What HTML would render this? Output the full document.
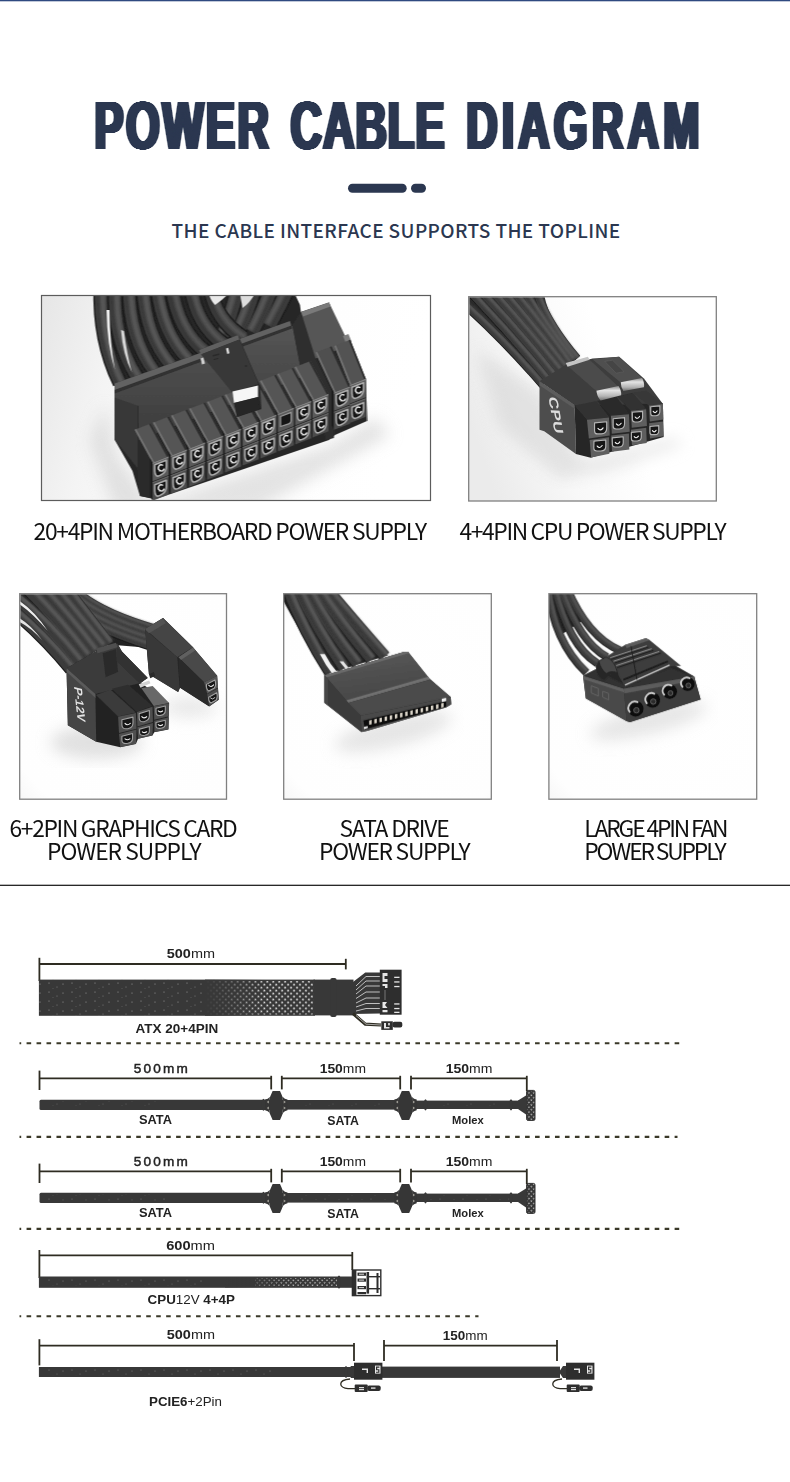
<!DOCTYPE html>
<html lang="en">
<head>
<meta charset="utf-8">
<title>Power Cable Diagram</title>
<style>
html,body{margin:0;padding:0;background:#fff;}
body{width:790px;height:1482px;overflow:hidden;position:relative;}
svg{display:block;position:absolute;left:0;top:0;}
.ttl{font-family:"Liberation Sans",sans-serif;font-weight:700;font-size:68.5px;fill:#2b3750;}
.sub{font-family:"Noto Sans CJK SC","Liberation Sans",sans-serif;font-weight:500;font-size:19px;fill:#2b3750;}
.cap{font-family:"Noto Sans CJK SC","Liberation Sans",sans-serif;font-weight:400;font-size:22.8px;fill:#111;}
.dim{font-family:"Liberation Sans",sans-serif;font-size:13px;fill:#222;}
.lbl{font-family:"Liberation Sans",sans-serif;font-weight:700;font-size:12px;fill:#222;}
</style>
</head>
<body>
<svg width="790" height="1482" viewBox="0 0 790 1482">
<defs>
<filter id="thick" x="-5%" y="-5%" width="110%" height="110%" color-interpolation-filters="sRGB"><feGaussianBlur stdDeviation="1.45 0"/><feComponentTransfer><feFuncA type="linear" slope="6.8" intercept="-0.18"/></feComponentTransfer></filter>
</defs>
<!-- top rule -->
<rect x="0" y="0" width="790" height="1.3" fill="#2f4a80"/>
<!-- title -->
<g id="title" filter="url(#thick)">
<text class="ttl" transform="translate(94.6 149.4) scale(0.635 1)" textLength="274.5" lengthAdjust="spacing">POWER</text>
<text class="ttl" transform="translate(290.5 149.4) scale(0.635 1)" textLength="242.4" lengthAdjust="spacing">CABLE</text>
<text class="ttl" transform="translate(466.3 149.4) scale(0.635 1)" textLength="367.1" lengthAdjust="spacing">DIAGRAM</text>
</g>
<rect x="348" y="183.7" width="58.7" height="9" rx="4.5" fill="#2b3750"/>
<rect x="411" y="183.7" width="15" height="9" rx="4.5" fill="#2b3750"/>
<text class="sub" x="171.6" y="237.5" textLength="448.6" lengthAdjust="spacing">THE CABLE INTERFACE SUPPORTS THE TOPLINE</text>
<g id="photos">
<g id="ph1">
<defs>
<clipPath id="clip1"><rect x="42.1" y="296.1" width="387.8" height="203.8"/></clipPath>
<linearGradient id="bg1" x1="0" y1="0" x2="1" y2="0.15"><stop offset="0" stop-color="#e6e6e6"/><stop offset="0.22" stop-color="#f4f4f4"/><stop offset="0.5" stop-color="#fdfdfd"/><stop offset="1" stop-color="#ffffff"/></linearGradient>
<filter id="blur1" x="-40%" y="-60%" width="180%" height="220%"><feGaussianBlur stdDeviation="16"/></filter>
<filter id="cblur" x="-10%" y="-10%" width="120%" height="120%"><feGaussianBlur stdDeviation="2.2"/></filter>
<filter id="soft1" x="-5%" y="-5%" width="110%" height="110%"><feGaussianBlur stdDeviation="0.5"/></filter>
<linearGradient id="face1" x1="0" y1="0" x2="0" y2="1"><stop offset="0" stop-color="#555"/><stop offset="1" stop-color="#3c3c3c"/></linearGradient>
</defs>
<rect x="41.5" y="295.5" width="389" height="205" fill="url(#bg1)"/>
<g clip-path="url(#clip1)"><g filter="url(#soft1)"><g transform="translate(40 290) scale(0.5)">
<g filter="url(#blur1)" opacity="0.55"><path d="M130,230 L150,330 L225,425 L580,310 L670,255 L700,290 L430,440 L150,440 L100,300 Z" fill="#cdcdcd"/></g>
<path d="M106,0 L506,0 L520,30 L522,46 L500,72 L321,128 L149,190 L126,90 Z" fill="#262626"/>
<g fill="none" stroke="#1e1e1e" stroke-width="32">
<path d="M498,-6 Q480,32 458,72"/>
<path d="M464,-6 Q446,44 424,84"/>
<path d="M430,-6 Q412,56 390,96"/>
<path d="M396,-6 Q378,69 356,109"/>
</g>
<g fill="none" stroke="#3a3a3a" stroke-width="26">
<path d="M498,-6 Q480,32 458,72"/>
<path d="M464,-6 Q446,44 424,84"/>
<path d="M430,-6 Q412,56 390,96"/>
<path d="M396,-6 Q378,69 356,109"/>
</g>
<g fill="none" stroke="#555" stroke-width="11" filter="url(#cblur)">
<path d="M494,-10 Q476,28 454,68"/>
<path d="M460,-10 Q442,40 420,80"/>
<path d="M426,-10 Q408,52 386,92"/>
<path d="M392,-10 Q374,65 352,105"/>
</g>
<g fill="none" stroke="#1e1e1e" stroke-width="31">
<path d="M340,-6 Q350,60 408,96"/>
<path d="M302,-6 Q312,70 370,110"/>
<path d="M264,-6 Q275,80 332,124"/>
</g>
<g fill="none" stroke="#383838" stroke-width="25">
<path d="M340,-6 Q350,60 408,96"/>
<path d="M302,-6 Q312,70 370,110"/>
<path d="M264,-6 Q275,80 332,124"/>
</g>
<g fill="none" stroke="#535353" stroke-width="11" filter="url(#cblur)">
<path d="M344,-7 Q354,59 412,95"/>
<path d="M306,-7 Q316,69 374,109"/>
<path d="M268,-7 Q279,79 336,123"/>
</g>
<g fill="none" stroke="#1e1e1e" stroke-width="30">
<path d="M122,-6 Q118,100 160,186"/>
<path d="M150,-6 Q146,100 194,174"/>
<path d="M178,-6 Q178,95 228,162"/>
<path d="M206,-6 Q210,90 262,150"/>
<path d="M234,-6 Q244,85 296,138"/>
</g>
<g fill="none" stroke="#3a3a3a" stroke-width="24">
<path d="M122,-6 Q118,100 160,186"/>
<path d="M150,-6 Q146,100 194,174"/>
<path d="M178,-6 Q178,95 228,162"/>
<path d="M206,-6 Q210,90 262,150"/>
<path d="M234,-6 Q244,85 296,138"/>
</g>
<g fill="none" stroke="#565656" stroke-width="11" filter="url(#cblur)">
<path d="M126,-6 Q122,100 164,186"/>
<path d="M154,-6 Q150,100 198,174"/>
<path d="M182,-6 Q182,95 232,162"/>
<path d="M210,-6 Q214,90 266,150"/>
<path d="M238,-6 Q248,85 300,138"/>
</g>
<path d="M133,40 Q134,110 150,160 Q140,110 139,40 Z" fill="#f0f0f0"/>
<path d="M162,80 Q166,130 184,165 Q174,130 168,82 Z" fill="#d8d8d8"/>
<path d="M335,0 L385,0 Q365,20 350,30 Q340,20 335,0 Z" fill="#e9e9e9"/>
<path d="M400,8 L432,4 Q420,26 405,36 Z" fill="#ddd"/>
<path d="M149,187 L500,62 L522,44 L578,25 L602,88 L652,178 L654,262 L590,290 L578,300 L232,418 L200,412 L185,362 L149,299 Z" fill="#282828"/>
<path d="M149,187 L195,213 L195,356 L149,299 Z" fill="#383838"/>
<path d="M195,281 L227,296 L227,418 L200,412 L195,356 Z" fill="#2b2b2b"/>
<path d="M149,202 L505,72 L520,150 L548,140 L560,160 L197,300 L197,232 L149,215 Z" fill="url(#face1)"/>
<path d="M149,187 L500,62 L503,73 L149,203 Z" fill="#626262"/>
<path d="M149,200 L503,71 L504,77 L149,207 Z" fill="#303030"/>
<path d="M505,70 L522,44 L551,137 L588,212 L588,296 L572,300 L548,200 L520,150 Z" fill="#2e2e2e"/>
<path d="M545.0,220.3 L577.0,207.9 L541.0,141.9 L509.0,154.3 Z" fill="#545454"/>
<path d="M545.0,220.3 L509.0,154.3 L512.5,152.9 L548.5,218.9 Z" fill="#727272"/>
<path d="M577.0,207.9 L541.0,141.9 L538.0,143.1 L574.0,209.1 Z" fill="#2b2b2b"/>
<path d="M545.0,220.3 L540.0,211.3 L540.0,286.0 L545.0,295.0 Z" fill="#1f1f1f"/>
<path d="M545.0,220.3 L577.0,207.9 L577.0,244.2 L545.0,256.7 Z" fill="#5a5a5a"/>
<path d="M545.0,258.7 L577.0,246.2 L577.0,282.5 L545.0,295.0 Z" fill="#4c4c4c"/>
<path d="M545.0,220.3 L577.0,207.9 L577.0,210.4 L545.0,222.8 Z" fill="#858585"/>
<path d="M545.0,258.7 L577.0,246.2 L577.0,248.2 L545.0,260.7 Z" fill="#6c6c6c"/>
<path d="M549.5,224.6 L572.5,215.6 L572.5,227.6 Q572.5,240.6 561.0,245.1 Q549.5,251.6 549.5,236.6 Z" fill="#131313" stroke="#adadad" stroke-width="3.2" stroke-linejoin="round"/>
<path d="M565.0,225.1 a6.0,6.0 0 1 0 3.0,8.0" fill="none" stroke="#f0f0f0" stroke-width="2.8" stroke-linecap="round"/>
<path d="M557.0,237.1 q4.0,4.0 8.0,-2.0" fill="none" stroke="#8a8a8a" stroke-width="1.6"/>
<path d="M549.5,263.2 L572.5,254.3 L572.5,266.3 Q572.5,279.3 561.0,283.7 Q549.5,290.2 549.5,275.2 Z" fill="#131313" stroke="#adadad" stroke-width="3.2" stroke-linejoin="round"/>
<path d="M565.0,263.7 a6.0,6.0 0 1 0 3.0,8.0" fill="none" stroke="#f0f0f0" stroke-width="2.8" stroke-linecap="round"/>
<path d="M557.0,275.7 q4.0,4.0 8.0,-2.0" fill="none" stroke="#8a8a8a" stroke-width="1.6"/>
<path d="M510.5,234.2 L542.5,221.8 L506.5,155.8 L474.5,168.2 Z" fill="#545454"/>
<path d="M510.5,234.2 L474.5,168.2 L478.0,166.8 L514.0,232.8 Z" fill="#727272"/>
<path d="M542.5,221.8 L506.5,155.8 L503.5,157.0 L539.5,223.0 Z" fill="#2b2b2b"/>
<path d="M510.5,234.2 L505.5,225.2 L505.5,300.0 L510.5,309.0 Z" fill="#1f1f1f"/>
<path d="M510.5,234.2 L542.5,221.8 L542.5,258.2 L510.5,270.6 Z" fill="#5a5a5a"/>
<path d="M510.5,272.6 L542.5,260.2 L542.5,296.6 L510.5,309.0 Z" fill="#4c4c4c"/>
<path d="M510.5,234.2 L542.5,221.8 L542.5,224.3 L510.5,236.7 Z" fill="#858585"/>
<path d="M510.5,272.6 L542.5,260.2 L542.5,262.2 L510.5,274.6 Z" fill="#6c6c6c"/>
<path d="M515.0,238.5 L538.0,229.5 L538.0,241.5 Q538.0,254.5 526.5,259.0 Q515.0,265.5 515.0,250.5 Z" fill="#131313" stroke="#adadad" stroke-width="3.2" stroke-linejoin="round"/>
<path d="M530.5,239.0 a6.0,6.0 0 1 0 3.0,8.0" fill="none" stroke="#f0f0f0" stroke-width="2.8" stroke-linecap="round"/>
<path d="M522.5,251.0 q4.0,4.0 8.0,-2.0" fill="none" stroke="#8a8a8a" stroke-width="1.6"/>
<path d="M515.0,277.3 L538.0,268.3 L538.0,280.3 Q538.0,293.3 526.5,297.8 Q515.0,304.3 515.0,289.3 Z" fill="#131313" stroke="#adadad" stroke-width="3.2" stroke-linejoin="round"/>
<path d="M530.5,277.8 a6.0,6.0 0 1 0 3.0,8.0" fill="none" stroke="#f0f0f0" stroke-width="2.8" stroke-linecap="round"/>
<path d="M522.5,289.8 q4.0,4.0 8.0,-2.0" fill="none" stroke="#8a8a8a" stroke-width="1.6"/>
<path d="M475.7,248.1 L507.7,235.7 L471.7,169.7 L439.7,182.1 Z" fill="#545454"/>
<path d="M475.7,248.1 L439.7,182.1 L443.2,180.7 L479.2,246.7 Z" fill="#727272"/>
<path d="M507.7,235.7 L471.7,169.7 L468.7,170.9 L504.7,236.9 Z" fill="#2b2b2b"/>
<path d="M475.7,248.1 L470.7,239.1 L470.7,314.1 L475.7,323.1 Z" fill="#1f1f1f"/>
<path d="M475.7,248.1 L507.7,235.7 L507.7,272.1 L475.7,284.6 Z" fill="#5a5a5a"/>
<path d="M475.7,286.6 L507.7,274.1 L507.7,310.6 L475.7,323.1 Z" fill="#4c4c4c"/>
<path d="M475.7,248.1 L507.7,235.7 L507.7,238.2 L475.7,250.6 Z" fill="#858585"/>
<path d="M475.7,286.6 L507.7,274.1 L507.7,276.1 L475.7,288.6 Z" fill="#6c6c6c"/>
<path d="M481.2,252.9 l21,-8 v16 q0,6 -8,8 l-13,4 z" fill="#161616" stroke="#9a9a9a" stroke-width="2.4"/>
<path d="M480.2,291.3 L503.2,282.4 L503.2,294.4 Q503.2,307.4 491.7,311.8 Q480.2,318.3 480.2,303.3 Z" fill="#131313" stroke="#adadad" stroke-width="3.2" stroke-linejoin="round"/>
<path d="M495.7,291.8 a6.0,6.0 0 1 0 3.0,8.0" fill="none" stroke="#f0f0f0" stroke-width="2.8" stroke-linecap="round"/>
<path d="M487.7,303.8 q4.0,4.0 8.0,-2.0" fill="none" stroke="#8a8a8a" stroke-width="1.6"/>
<path d="M440.7,262.0 L472.7,249.6 L436.7,183.6 L404.7,196.0 Z" fill="#545454"/>
<path d="M440.7,262.0 L404.7,196.0 L408.2,194.6 L444.2,260.6 Z" fill="#727272"/>
<path d="M472.7,249.6 L436.7,183.6 L433.7,184.8 L469.7,250.8 Z" fill="#2b2b2b"/>
<path d="M440.7,262.0 L435.7,253.0 L435.7,328.1 L440.7,337.1 Z" fill="#1f1f1f"/>
<path d="M440.7,262.0 L472.7,249.6 L472.7,286.1 L440.7,298.6 Z" fill="#5a5a5a"/>
<path d="M440.7,300.6 L472.7,288.1 L472.7,324.7 L440.7,337.1 Z" fill="#4c4c4c"/>
<path d="M440.7,262.0 L472.7,249.6 L472.7,252.1 L440.7,264.5 Z" fill="#858585"/>
<path d="M440.7,300.6 L472.7,288.1 L472.7,290.1 L440.7,302.6 Z" fill="#6c6c6c"/>
<path d="M445.2,266.3 L468.2,257.3 L468.2,269.3 Q468.2,282.3 456.7,286.8 Q445.2,293.3 445.2,278.3 Z" fill="#131313" stroke="#adadad" stroke-width="3.2" stroke-linejoin="round"/>
<path d="M460.7,266.8 a6.0,6.0 0 1 0 3.0,8.0" fill="none" stroke="#f0f0f0" stroke-width="2.8" stroke-linecap="round"/>
<path d="M452.7,278.8 q4.0,4.0 8.0,-2.0" fill="none" stroke="#8a8a8a" stroke-width="1.6"/>
<path d="M445.2,305.4 L468.2,296.4 L468.2,308.4 Q468.2,321.4 456.7,325.9 Q445.2,332.4 445.2,317.4 Z" fill="#131313" stroke="#adadad" stroke-width="3.2" stroke-linejoin="round"/>
<path d="M460.7,305.9 a6.0,6.0 0 1 0 3.0,8.0" fill="none" stroke="#f0f0f0" stroke-width="2.8" stroke-linecap="round"/>
<path d="M452.7,317.9 q4.0,4.0 8.0,-2.0" fill="none" stroke="#8a8a8a" stroke-width="1.6"/>
<path d="M405.4,275.9 L437.4,263.5 L401.4,197.5 L369.4,209.9 Z" fill="#545454"/>
<path d="M405.4,275.9 L369.4,209.9 L372.9,208.5 L408.9,274.5 Z" fill="#727272"/>
<path d="M437.4,263.5 L401.4,197.5 L398.4,198.7 L434.4,264.7 Z" fill="#2b2b2b"/>
<path d="M405.4,275.9 L400.4,266.9 L400.4,342.2 L405.4,351.2 Z" fill="#1f1f1f"/>
<path d="M405.4,275.9 L437.4,263.5 L437.4,300.1 L405.4,312.6 Z" fill="#5a5a5a"/>
<path d="M405.4,314.6 L437.4,302.1 L437.4,338.7 L405.4,351.2 Z" fill="#4c4c4c"/>
<path d="M405.4,275.9 L437.4,263.5 L437.4,266.0 L405.4,278.4 Z" fill="#858585"/>
<path d="M405.4,314.6 L437.4,302.1 L437.4,304.1 L405.4,316.6 Z" fill="#6c6c6c"/>
<path d="M409.9,280.2 L432.9,271.2 L432.9,283.2 Q432.9,296.2 421.4,300.7 Q409.9,307.2 409.9,292.2 Z" fill="#131313" stroke="#adadad" stroke-width="3.2" stroke-linejoin="round"/>
<path d="M425.4,280.7 a6.0,6.0 0 1 0 3.0,8.0" fill="none" stroke="#f0f0f0" stroke-width="2.8" stroke-linecap="round"/>
<path d="M417.4,292.7 q4.0,4.0 8.0,-2.0" fill="none" stroke="#8a8a8a" stroke-width="1.6"/>
<path d="M409.9,319.4 L432.9,310.5 L432.9,322.5 Q432.9,335.5 421.4,339.9 Q409.9,346.4 409.9,331.4 Z" fill="#131313" stroke="#adadad" stroke-width="3.2" stroke-linejoin="round"/>
<path d="M425.4,319.9 a6.0,6.0 0 1 0 3.0,8.0" fill="none" stroke="#f0f0f0" stroke-width="2.8" stroke-linecap="round"/>
<path d="M417.4,331.9 q4.0,4.0 8.0,-2.0" fill="none" stroke="#8a8a8a" stroke-width="1.6"/>
<path d="M369.9,289.8 L401.9,277.4 L365.9,211.4 L333.9,223.8 Z" fill="#545454"/>
<path d="M369.9,289.8 L333.9,223.8 L337.4,222.4 L373.4,288.4 Z" fill="#727272"/>
<path d="M401.9,277.4 L365.9,211.4 L362.9,212.6 L398.9,278.6 Z" fill="#2b2b2b"/>
<path d="M369.9,289.8 L364.9,280.8 L364.9,356.2 L369.9,365.2 Z" fill="#1f1f1f"/>
<path d="M369.9,289.8 L401.9,277.4 L401.9,314.1 L369.9,326.5 Z" fill="#5a5a5a"/>
<path d="M369.9,328.5 L401.9,316.1 L401.9,352.8 L369.9,365.2 Z" fill="#4c4c4c"/>
<path d="M369.9,289.8 L401.9,277.4 L401.9,279.9 L369.9,292.3 Z" fill="#858585"/>
<path d="M369.9,328.5 L401.9,316.1 L401.9,318.1 L369.9,330.5 Z" fill="#6c6c6c"/>
<path d="M374.4,294.1 L397.4,285.1 L397.4,297.1 Q397.4,310.1 385.9,314.6 Q374.4,321.1 374.4,306.1 Z" fill="#131313" stroke="#adadad" stroke-width="3.2" stroke-linejoin="round"/>
<path d="M389.9,294.6 a6.0,6.0 0 1 0 3.0,8.0" fill="none" stroke="#f0f0f0" stroke-width="2.8" stroke-linecap="round"/>
<path d="M381.9,306.6 q4.0,4.0 8.0,-2.0" fill="none" stroke="#8a8a8a" stroke-width="1.6"/>
<path d="M374.4,333.5 L397.4,324.5 L397.4,336.5 Q397.4,349.5 385.9,354.0 Q374.4,360.5 374.4,345.5 Z" fill="#131313" stroke="#adadad" stroke-width="3.2" stroke-linejoin="round"/>
<path d="M389.9,334.0 a6.0,6.0 0 1 0 3.0,8.0" fill="none" stroke="#f0f0f0" stroke-width="2.8" stroke-linecap="round"/>
<path d="M381.9,346.0 q4.0,4.0 8.0,-2.0" fill="none" stroke="#8a8a8a" stroke-width="1.6"/>
<path d="M334.1,303.7 L366.1,291.3 L330.1,225.3 L298.1,237.7 Z" fill="#545454"/>
<path d="M334.1,303.7 L298.1,237.7 L301.6,236.3 L337.6,302.3 Z" fill="#727272"/>
<path d="M366.1,291.3 L330.1,225.3 L327.1,226.5 L363.1,292.5 Z" fill="#2b2b2b"/>
<path d="M334.1,303.7 L329.1,294.7 L329.1,370.3 L334.1,379.3 Z" fill="#1f1f1f"/>
<path d="M334.1,303.7 L366.1,291.3 L366.1,328.0 L334.1,340.5 Z" fill="#5a5a5a"/>
<path d="M334.1,342.5 L366.1,330.0 L366.1,366.8 L334.1,379.3 Z" fill="#4c4c4c"/>
<path d="M334.1,303.7 L366.1,291.3 L366.1,293.8 L334.1,306.2 Z" fill="#858585"/>
<path d="M334.1,342.5 L366.1,330.0 L366.1,332.0 L334.1,344.5 Z" fill="#6c6c6c"/>
<path d="M338.6,308.0 L361.6,299.0 L361.6,311.0 Q361.6,324.0 350.1,328.5 Q338.6,335.0 338.6,320.0 Z" fill="#131313" stroke="#adadad" stroke-width="3.2" stroke-linejoin="round"/>
<path d="M354.1,308.5 a6.0,6.0 0 1 0 3.0,8.0" fill="none" stroke="#f0f0f0" stroke-width="2.8" stroke-linecap="round"/>
<path d="M346.1,320.5 q4.0,4.0 8.0,-2.0" fill="none" stroke="#8a8a8a" stroke-width="1.6"/>
<path d="M338.6,347.5 L361.6,338.6 L361.6,350.6 Q361.6,363.6 350.1,368.1 Q338.6,374.5 338.6,359.5 Z" fill="#131313" stroke="#adadad" stroke-width="3.2" stroke-linejoin="round"/>
<path d="M354.1,348.1 a6.0,6.0 0 1 0 3.0,8.0" fill="none" stroke="#f0f0f0" stroke-width="2.8" stroke-linecap="round"/>
<path d="M346.1,360.1 q4.0,4.0 8.0,-2.0" fill="none" stroke="#8a8a8a" stroke-width="1.6"/>
<path d="M298.1,317.6 L330.1,305.2 L294.1,239.2 L262.1,251.6 Z" fill="#545454"/>
<path d="M298.1,317.6 L262.1,251.6 L265.6,250.2 L301.6,316.2 Z" fill="#727272"/>
<path d="M330.1,305.2 L294.1,239.2 L291.1,240.4 L327.1,306.4 Z" fill="#2b2b2b"/>
<path d="M298.1,317.6 L293.1,308.6 L293.1,384.3 L298.1,393.3 Z" fill="#1f1f1f"/>
<path d="M298.1,317.6 L330.1,305.2 L330.1,342.0 L298.1,354.5 Z" fill="#5a5a5a"/>
<path d="M298.1,356.5 L330.1,344.0 L330.1,380.9 L298.1,393.3 Z" fill="#4c4c4c"/>
<path d="M298.1,317.6 L330.1,305.2 L330.1,307.7 L298.1,320.1 Z" fill="#858585"/>
<path d="M298.1,356.5 L330.1,344.0 L330.1,346.0 L298.1,358.5 Z" fill="#6c6c6c"/>
<path d="M302.6,321.9 L325.6,312.9 L325.6,324.9 Q325.6,337.9 314.1,342.4 Q302.6,348.9 302.6,333.9 Z" fill="#131313" stroke="#adadad" stroke-width="3.2" stroke-linejoin="round"/>
<path d="M318.1,322.4 a6.0,6.0 0 1 0 3.0,8.0" fill="none" stroke="#f0f0f0" stroke-width="2.8" stroke-linecap="round"/>
<path d="M310.1,334.4 q4.0,4.0 8.0,-2.0" fill="none" stroke="#8a8a8a" stroke-width="1.6"/>
<path d="M302.6,361.6 L325.6,352.6 L325.6,364.6 Q325.6,377.6 314.1,382.1 Q302.6,388.6 302.6,373.6 Z" fill="#131313" stroke="#adadad" stroke-width="3.2" stroke-linejoin="round"/>
<path d="M318.1,362.1 a6.0,6.0 0 1 0 3.0,8.0" fill="none" stroke="#f0f0f0" stroke-width="2.8" stroke-linecap="round"/>
<path d="M310.1,374.1 q4.0,4.0 8.0,-2.0" fill="none" stroke="#8a8a8a" stroke-width="1.6"/>
<path d="M261.8,331.5 L293.8,319.1 L257.8,253.1 L225.8,265.5 Z" fill="#545454"/>
<path d="M261.8,331.5 L225.8,265.5 L229.3,264.1 L265.3,330.1 Z" fill="#727272"/>
<path d="M293.8,319.1 L257.8,253.1 L254.8,254.3 L290.8,320.3 Z" fill="#2b2b2b"/>
<path d="M261.8,331.5 L256.8,322.5 L256.8,398.4 L261.8,407.4 Z" fill="#1f1f1f"/>
<path d="M261.8,331.5 L293.8,319.1 L293.8,356.0 L261.8,368.5 Z" fill="#5a5a5a"/>
<path d="M261.8,370.5 L293.8,358.0 L293.8,394.9 L261.8,407.4 Z" fill="#4c4c4c"/>
<path d="M261.8,331.5 L293.8,319.1 L293.8,321.6 L261.8,334.0 Z" fill="#858585"/>
<path d="M261.8,370.5 L293.8,358.0 L293.8,360.0 L261.8,372.5 Z" fill="#6c6c6c"/>
<path d="M266.3,335.8 L289.3,326.8 L289.3,338.8 Q289.3,351.8 277.8,356.3 Q266.3,362.8 266.3,347.8 Z" fill="#131313" stroke="#adadad" stroke-width="3.2" stroke-linejoin="round"/>
<path d="M281.8,336.3 a6.0,6.0 0 1 0 3.0,8.0" fill="none" stroke="#f0f0f0" stroke-width="2.8" stroke-linecap="round"/>
<path d="M273.8,348.3 q4.0,4.0 8.0,-2.0" fill="none" stroke="#8a8a8a" stroke-width="1.6"/>
<path d="M266.3,375.6 L289.3,366.7 L289.3,378.7 Q289.3,391.7 277.8,396.2 Q266.3,402.6 266.3,387.6 Z" fill="#131313" stroke="#adadad" stroke-width="3.2" stroke-linejoin="round"/>
<path d="M281.8,376.2 a6.0,6.0 0 1 0 3.0,8.0" fill="none" stroke="#f0f0f0" stroke-width="2.8" stroke-linecap="round"/>
<path d="M273.8,388.2 q4.0,4.0 8.0,-2.0" fill="none" stroke="#8a8a8a" stroke-width="1.6"/>
<path d="M225.2,345.4 L257.2,333.0 L221.2,267.0 L189.2,279.4 Z" fill="#545454"/>
<path d="M225.2,345.4 L189.2,279.4 L192.7,278.0 L228.7,344.0 Z" fill="#727272"/>
<path d="M257.2,333.0 L221.2,267.0 L218.2,268.2 L254.2,334.2 Z" fill="#2b2b2b"/>
<path d="M225.2,345.4 L220.2,336.4 L220.2,412.4 L225.2,421.4 Z" fill="#1f1f1f"/>
<path d="M225.2,345.4 L257.2,333.0 L257.2,370.0 L225.2,382.4 Z" fill="#5a5a5a"/>
<path d="M225.2,384.4 L257.2,372.0 L257.2,409.0 L225.2,421.4 Z" fill="#4c4c4c"/>
<path d="M225.2,345.4 L257.2,333.0 L257.2,335.5 L225.2,347.9 Z" fill="#858585"/>
<path d="M225.2,384.4 L257.2,372.0 L257.2,374.0 L225.2,386.4 Z" fill="#6c6c6c"/>
<path d="M229.7,349.7 L252.7,340.7 L252.7,352.7 Q252.7,365.7 241.2,370.2 Q229.7,376.7 229.7,361.7 Z" fill="#131313" stroke="#adadad" stroke-width="3.2" stroke-linejoin="round"/>
<path d="M245.2,350.2 a6.0,6.0 0 1 0 3.0,8.0" fill="none" stroke="#f0f0f0" stroke-width="2.8" stroke-linecap="round"/>
<path d="M237.2,362.2 q4.0,4.0 8.0,-2.0" fill="none" stroke="#8a8a8a" stroke-width="1.6"/>
<path d="M229.7,389.7 L252.7,380.7 L252.7,392.7 Q252.7,405.7 241.2,410.2 Q229.7,416.7 229.7,401.7 Z" fill="#131313" stroke="#adadad" stroke-width="3.2" stroke-linejoin="round"/>
<path d="M245.2,390.2 a6.0,6.0 0 1 0 3.0,8.0" fill="none" stroke="#f0f0f0" stroke-width="2.8" stroke-linecap="round"/>
<path d="M237.2,402.2 q4.0,4.0 8.0,-2.0" fill="none" stroke="#8a8a8a" stroke-width="1.6"/>
<path d="M522,44 L578,25 L619,110 L551,137 Z" fill="#565656"/>
<path d="M522,44 L578,25 L581,33 L526,53 Z" fill="#7a7a7a"/>
<path d="M606,92 l11,-4 l6,15 l-11,4 z" fill="#7d7d7d"/>
<path d="M619.6,190.0 L651.6,177.6 L620.6,99.6 L588.6,112.0 Z" fill="#525252"/>
<path d="M619.6,190.0 L588.6,112.0 L592.1,110.6 L623.1,188.6 Z" fill="#727272"/>
<path d="M651.6,177.6 L620.6,99.6 L617.6,100.8 L648.6,178.8 Z" fill="#2b2b2b"/>
<path d="M619.6,190.0 L614.6,181.0 L614.6,257.0 L619.6,266.0 Z" fill="#1f1f1f"/>
<path d="M619.6,190.0 L651.6,177.6 L651.6,214.6 L619.6,227.0 Z" fill="#5a5a5a"/>
<path d="M619.6,229.0 L651.6,216.6 L651.6,253.6 L619.6,266.0 Z" fill="#4c4c4c"/>
<path d="M619.6,190.0 L651.6,177.6 L651.6,180.1 L619.6,192.5 Z" fill="#858585"/>
<path d="M619.6,229.0 L651.6,216.6 L651.6,218.6 L619.6,231.0 Z" fill="#6c6c6c"/>
<path d="M624.1,194.3 L647.1,185.3 L647.1,197.3 Q647.1,210.3 635.6,214.8 Q624.1,221.3 624.1,206.3 Z" fill="#131313" stroke="#adadad" stroke-width="3.2" stroke-linejoin="round"/>
<path d="M639.6,194.8 a6.0,6.0 0 1 0 3.0,8.0" fill="none" stroke="#f0f0f0" stroke-width="2.8" stroke-linecap="round"/>
<path d="M631.6,206.8 q4.0,4.0 8.0,-2.0" fill="none" stroke="#8a8a8a" stroke-width="1.6"/>
<path d="M624.1,234.3 L647.1,225.3 L647.1,237.3 Q647.1,250.3 635.6,254.8 Q624.1,261.3 624.1,246.3 Z" fill="#131313" stroke="#adadad" stroke-width="3.2" stroke-linejoin="round"/>
<path d="M639.6,234.8 a6.0,6.0 0 1 0 3.0,8.0" fill="none" stroke="#f0f0f0" stroke-width="2.8" stroke-linecap="round"/>
<path d="M631.6,246.8 q4.0,4.0 8.0,-2.0" fill="none" stroke="#8a8a8a" stroke-width="1.6"/>
<path d="M588.0,205.2 L620.0,192.8 L583.0,112.8 L551.0,125.2 Z" fill="#4f4f4f"/>
<path d="M588.0,205.2 L551.0,125.2 L554.5,123.8 L591.5,203.8 Z" fill="#727272"/>
<path d="M620.0,192.8 L583.0,112.8 L580.0,114.0 L617.0,194.0 Z" fill="#2b2b2b"/>
<path d="M588.0,205.2 L583.0,196.2 L583.0,270.7 L588.0,279.7 Z" fill="#1f1f1f"/>
<path d="M588.0,205.2 L620.0,192.8 L620.0,229.0 L588.0,241.5 Z" fill="#5a5a5a"/>
<path d="M588.0,243.5 L620.0,231.0 L620.0,267.3 L588.0,279.7 Z" fill="#4c4c4c"/>
<path d="M588.0,205.2 L620.0,192.8 L620.0,195.3 L588.0,207.7 Z" fill="#858585"/>
<path d="M588.0,243.5 L620.0,231.0 L620.0,233.0 L588.0,245.5 Z" fill="#6c6c6c"/>
<path d="M592.5,209.5 L615.5,200.5 L615.5,212.5 Q615.5,225.5 604.0,230.0 Q592.5,236.5 592.5,221.5 Z" fill="#131313" stroke="#adadad" stroke-width="3.2" stroke-linejoin="round"/>
<path d="M608.0,210.0 a6.0,6.0 0 1 0 3.0,8.0" fill="none" stroke="#f0f0f0" stroke-width="2.8" stroke-linecap="round"/>
<path d="M600.0,222.0 q4.0,4.0 8.0,-2.0" fill="none" stroke="#8a8a8a" stroke-width="1.6"/>
<path d="M592.5,248.0 L615.5,239.0 L615.5,251.0 Q615.5,264.0 604.0,268.5 Q592.5,275.0 592.5,260.0 Z" fill="#131313" stroke="#adadad" stroke-width="3.2" stroke-linejoin="round"/>
<path d="M608.0,248.5 a6.0,6.0 0 1 0 3.0,8.0" fill="none" stroke="#f0f0f0" stroke-width="2.8" stroke-linecap="round"/>
<path d="M600.0,260.5 q4.0,4.0 8.0,-2.0" fill="none" stroke="#8a8a8a" stroke-width="1.6"/>
<path d="M318,120 L396,90 L440,192 L443,238 L394,254 L385,205 Z" fill="#2a2a2a"/>
<path d="M318,120 L396,90 L399,99 L322,129 Z" fill="#616161"/>
<path d="M322,129 L399,99 L437,188 L385,205 Z" fill="#383838"/>
<path d="M385,203 L436,191 L436,214 L388,226 Z" fill="#f6f6f6"/>
<path d="M388,226 L436,214 L441,238 L394,254 Z" fill="#252525"/>
<path d="M372,117 l4.5,-1.5 l2.5,11 l-4.5,1.5 z" fill="#e2e2e2"/>
<path d="M321,137 l6,-2 l3,12 l-6,2 z" fill="#d0d0d0"/>
<path d="M345,130 l14,-3 v3 l-14,3 z M347,138 l10,-2 v2 l-10,2 z" fill="#2a2a2a"/>
<circle cx="412" cy="152" r="2" fill="#2a2a2a"/>
</g></g></g>
<rect x="41.5" y="295.5" width="389" height="205" fill="none" stroke="#5c5c5c" stroke-width="1.2"/>
</g>
<g id="ph2">
<defs>
<clipPath id="clip2"><rect x="469.3" y="297.3" width="246.4" height="203.1"/></clipPath>
<linearGradient id="bg2" x1="0" y1="0.6" x2="1" y2="0.3"><stop offset="0" stop-color="#ebebeb"/><stop offset="0.3" stop-color="#f8f8f8"/><stop offset="0.6" stop-color="#ffffff"/><stop offset="1" stop-color="#ffffff"/></linearGradient>
<filter id="soft" x="-5%" y="-5%" width="110%" height="110%"><feGaussianBlur stdDeviation="0.55"/></filter>
<filter id="cblur2" x="-10%" y="-10%" width="120%" height="120%"><feGaussianBlur stdDeviation="5"/></filter>
<filter id="cblur3" x="-10%" y="-10%" width="120%" height="120%"><feGaussianBlur stdDeviation="3.5"/></filter>
<filter id="soft3" x="-50%" y="-50%" width="200%" height="200%"><feGaussianBlur stdDeviation="40"/></filter>
<linearGradient id="silver" x1="0" y1="0" x2="0" y2="1"><stop offset="0" stop-color="#8a8a8a"/><stop offset="0.3" stop-color="#e4e4e4"/><stop offset="0.7" stop-color="#b4b4b4"/><stop offset="1" stop-color="#6e6e6e"/></linearGradient>
</defs>
<rect x="468.7" y="296.7" width="247.6" height="204.3" fill="url(#bg2)"/>
<g clip-path="url(#clip2)">
<g filter="url(#soft)">
<!-- shadow -->
<g transform="translate(465 293) scale(0.18987)" filter="url(#soft3)" opacity="0.5">
<path d="M60,300 L400,520 L620,880 L900,900 L500,980 L180,700 Z" fill="#cfcfcf"/>
<path d="M600,880 L1100,760 L1150,800 L700,960 Z" fill="#d8d8d8"/>
</g>
<!-- cables -->
<g transform="translate(465 293) scale(0.18987)" fill="none" stroke-linecap="butt">
<path d="M0,0 L415,0 Q440,150 590,345 L400,480 L0,60 Z" fill="#2b2b2b" stroke="none"/>
<g fill="none" stroke="#1c1c1c" stroke-width="44">
<path d="M-20,45 Q200,240 410,485"/><path d="M40,10 Q250,230 440,460"/><path d="M100,10 Q290,210 470,435"/><path d="M160,10 Q330,200 500,410"/><path d="M215,10 Q370,190 525,390"/><path d="M270,10 Q400,170 548,370"/><path d="M325,10 Q420,170 568,355"/><path d="M382,10 Q440,170 590,345"/>
</g>
<g fill="none" stroke="#3a3a3a" stroke-width="36">
<path d="M-20,45 Q200,240 410,485"/><path d="M40,10 Q250,230 440,460"/><path d="M100,10 Q290,210 470,435"/><path d="M160,10 Q330,200 500,410"/><path d="M215,10 Q370,190 525,390"/><path d="M270,10 Q400,170 548,370"/><path d="M325,10 Q420,170 568,355"/><path d="M382,10 Q440,170 590,345"/>
</g>
<g fill="none" stroke="#585858" stroke-width="18" filter="url(#cblur2)">
<path d="M-10,38 Q205,232 415,478"/><path d="M50,3 Q258,222 446,452"/><path d="M110,3 Q298,202 476,427"/><path d="M170,3 Q338,192 506,402"/><path d="M225,3 Q378,182 531,382"/><path d="M280,3 Q408,162 554,362"/><path d="M335,3 Q428,162 574,347"/><path d="M392,3 Q450,165 596,338"/>
</g>
</g>
<!-- connector -->
<g transform="translate(530 350) scale(0.18987)">
<!-- top face -->
<path d="M50,165 L185,80 L330,45 L470,35 L600,150 L700,285 L235,292 Z" fill="#3d3d3d"/>
<!-- left face -->
<path d="M50,165 L235,290 L242,548 L75,428 L50,420 Z" fill="#4e4e4e"/>
<path d="M50,165 L235,290 L236,310 L50,185 Z" fill="#5c5c5c"/>
<!-- front block -->
<path d="M235,290 L700,282 L704,458 L320,568 L242,548 Z" fill="#262626"/>
<!-- pin top faces -->
<path d="M235,292 L350,268 L418,354 L300,368 Z" fill="#333"/>
<path d="M352,268 L455,245 L522,336 L425,346 Z" fill="#2c2c2c"/>
<path d="M458,245 L540,225 L613,310 L530,320 Z" fill="#303030"/>
<path d="M543,225 L612,213 L700,283 L625,292 Z" fill="#383838"/>
<!-- pin faces -->
<g fill="#5f5f5f">
<path d="M300,368 L416,356 L420,450 L310,466 Z"/><path d="M426,346 L521,338 L525,430 L431,441 Z"/><path d="M531,320 L612,312 L616,400 L536,410 Z"/><path d="M626,292 L700,285 L702,366 L631,376 Z"/>
<path d="M314,474 L416,460 L418,546 L322,566 Z"/><path d="M428,450 L521,440 L523,524 L432,536 Z"/><path d="M532,420 L612,410 L615,490 L537,502 Z"/><path d="M627,386 L700,376 L702,454 L632,466 Z"/>
</g>
<!-- holes -->
<g fill="#151515" stroke="#b4b4b4" stroke-width="6" stroke-linejoin="round">
<path d="M340,384 l64,-6 v34 q0,28 -29,30 h-19 q-16,0 -16,-16 z"/><path d="M438,362 l60,-6 v32 q0,26 -27,28 h-18 q-15,0 -15,-14 z"/><path d="M539,328 l54,-5 v30 q0,24 -24,26 h-16 q-14,0 -14,-14 z"/><path d="M636,299 l48,-5 v28 q0,22 -22,24 h-14 q-12,0 -12,-12 z"/><path d="M337,480 l62,-6 v34 q0,22 -25,24 h-22 q-16,0 -16,-14 z"/><path d="M433,463 l58,-6 v31 q0,21 -23,23 h-20 q-14,0 -14,-13 z"/><path d="M534,434 l52,-5 v29 q0,19 -21,21 h-18 q-13,0 -13,-12 z"/><path d="M632,403 l46,-5 v28 q0,18 -18,20 h-16 q-12,0 -12,-12 z"/>
</g>
<g fill="none" stroke="#f4f4f4" stroke-width="6" stroke-linecap="round"><path d="M358,413 q13,17 27,-3"/><path d="M455,389 q12,16 25,-3"/><path d="M554,353 q11,15 23,-3"/><path d="M649,323 q10,14 20,-2"/><path d="M354,506 q12,16 26,-3"/><path d="M449,487 q12,15 24,-3"/><path d="M549,456 q10,13 22,-2"/><path d="M645,425 q9,13 19,-2"/></g>
<!-- clip pieces -->
<path d="M200,85 L312,50 L470,198 L352,218 Z" fill="#4b4b4b"/>
<path d="M188,68 L305,36 L314,52 L198,88 Z" fill="#c4c4c4"/>
<path d="M330,50 L468,35 L592,150 L480,172 Z" fill="#505050"/>
<path d="M395,60 l40,-6 l60,60 l-42,8 z" fill="#444" stroke="#5e5e5e" stroke-width="3"/>
<path d="M350,215 L466,190 Q482,212 480,238 L372,266 Q352,245 350,215 Z" fill="url(#silver)"/>
<path d="M478,170 L590,148 Q604,170 600,196 L492,216 Q478,196 478,170 Z" fill="url(#silver)"/>
<!-- CPU label -->
<text transform="translate(96 245) rotate(80) skewX(-14)" font-family="'Liberation Sans',sans-serif" font-size="66" font-weight="700" fill="#dcdcdc" textLength="196" lengthAdjust="spacingAndGlyphs">CPU</text>
</g>
</g>
</g>
<rect x="468.7" y="296.7" width="247.6" height="204.3" fill="none" stroke="#808080" stroke-width="1.3"/>
</g>
<g id="ph3">
<defs>
<clipPath id="clip3"><rect x="20.3" y="594.3" width="205.6" height="204.3"/></clipPath>
<radialGradient id="bg3" cx="0.55" cy="0.5" r="0.85"><stop offset="0" stop-color="#ffffff"/><stop offset="0.75" stop-color="#fefefe"/><stop offset="1" stop-color="#f0f0f0"/></radialGradient>
<filter id="blur3" x="-60%" y="-150%" width="220%" height="400%"><feGaussianBlur stdDeviation="30"/></filter>
</defs>
<rect x="19.7" y="593.7" width="206.8" height="205.5" fill="url(#bg3)"/>
<g clip-path="url(#clip3)"><g filter="url(#soft)">
<g transform="translate(15 590) scale(0.27215)">
<g filter="url(#blur3)" opacity="0.55"><ellipse cx="300" cy="560" rx="170" ry="60" fill="#c8c8c8"/><ellipse cx="640" cy="430" rx="100" ry="40" fill="#d8d8d8"/></g>
<!-- cables -->
<path d="M0,0 L240,0 L300,58 L365,88 L490,128 L490,212 L365,202 L330,202 L190,292 L0,105 Z" fill="#232323"/>
<g fill="none" stroke="#1c1c1c" stroke-width="31">
<path d="M140,-5 C200,85 310,152 520,214"/><path d="M165,-5 C220,70 320,132 520,192"/><path d="M190,-5 C240,55 330,112 520,168"/><path d="M215,-5 C260,40 340,92 520,144"/>
</g>
<g fill="none" stroke="#3a3a3a" stroke-width="23">
<path d="M140,-5 C200,85 310,152 520,214"/><path d="M165,-5 C220,70 320,132 520,192"/><path d="M190,-5 C240,55 330,112 520,168"/><path d="M215,-5 C260,40 340,92 520,144"/>
</g>
<g fill="none" stroke="#585858" stroke-width="10" filter="url(#cblur3)">
<path d="M146,-12 C206,78 316,145 526,206"/><path d="M171,-12 C226,63 326,125 526,184"/><path d="M196,-12 C246,48 336,105 526,160"/><path d="M221,-12 C266,33 346,85 526,136"/>
</g>
<g fill="none" stroke="#1c1c1c" stroke-width="46">
<path d="M-10,75 Q100,165 205,292"/><path d="M-10,18 Q120,120 235,268"/><path d="M40,-8 Q150,100 262,246"/><path d="M92,-8 Q190,95 290,228"/><path d="M140,-8 Q225,95 318,212"/><path d="M185,-8 Q260,90 345,200"/>
</g>
<g fill="none" stroke="#3a3a3a" stroke-width="38">
<path d="M-10,75 Q100,165 205,292"/><path d="M-10,18 Q120,120 235,268"/><path d="M40,-8 Q150,100 262,246"/><path d="M92,-8 Q190,95 290,228"/><path d="M140,-8 Q225,95 318,212"/><path d="M185,-8 Q260,90 345,200"/>
</g>
<g fill="none" stroke="#585858" stroke-width="16" filter="url(#cblur3)">
<path d="M-4,62 Q108,154 214,282"/><path d="M-4,6 Q128,110 244,258"/><path d="M48,-18 Q158,90 271,236"/><path d="M100,-18 Q198,85 299,218"/><path d="M148,-18 Q233,85 327,202"/><path d="M193,-18 Q268,80 354,190"/>
</g>
<path d="M17,52 Q70,90 120,150 Q75,80 17,40 Z" fill="#efefef"/>
<path d="M17,118 Q60,140 100,185 Q60,130 17,104 Z" fill="#e4e4e4"/>
</g>
<g transform="translate(55 625) scale(0.22152)">
<!-- 2-pin connector -->
<path d="M407,18 L488,-32 L623,100 L732,229 L739,338 L696,368 L564,283 L556,302 L424,222 Z" fill="#262626"/>
<path d="M407,18 L488,-32 L623,100 L552,146 Z" fill="#444"/>
<path d="M407,18 L488,-32 L500,-8 L418,42 Z" fill="#525252"/>
<path d="M407,22 L552,146 L563,286 L556,302 L424,222 Z" fill="#383838"/>
<path d="M424,222 L446,212 L452,230 L430,240 Z" fill="#2a2a2a"/>
<path d="M558,146 L623,102 L732,229 L673,258 Z" fill="#4a4a4a"/>
<path d="M558,146 L623,102 L634,114 L568,158 Z" fill="#606060"/>
<path d="M558,148 L673,259 L696,367 L564,282 Z" fill="#2c2c2c"/>
<path d="M673,259 L732,229 L736,282 L687,310 Z" fill="#565656"/>
<path d="M687,313 L736,285 L739,338 L696,367 Z" fill="#4c4c4c"/>
<g fill="#121212" stroke="#a2a2a2" stroke-width="5" stroke-linejoin="round"><path d="M684,268 l38,-20 q8,22 -4,38 l-24,12 q-12,-8 -10,-30 z"/><path d="M694,326 l36,-20 q6,20 -4,34 l-22,12 q-12,-8 -10,-26 z"/></g>
<path d="M694,272 q10,12 22,-2" fill="none" stroke="#f0f0f0" stroke-width="5" stroke-linecap="round"/><path d="M702,330 q8,10 20,-2" fill="none" stroke="#d8d8d8" stroke-width="4" stroke-linecap="round"/>
<!-- 6-pin connector -->
<path d="M52,195 L185,118 L282,84 L302,120 L418,238 L388,262 L515,352 L512,472 L448,484 L440,499 L375,514 L365,537 L295,552 L186,527 L58,452 Z" fill="#242424"/>
<path d="M52,195 L185,118 L282,84 L302,120 L418,238 L385,262 L182,312 Z" fill="#3b3b3b"/>
<path d="M52,195 L182,312 L186,527 L58,452 Z" fill="#454545"/>
<path d="M52,195 L182,312 L183,330 L53,212 Z" fill="#5a5a5a"/>
<path d="M185,106 L275,80 L282,100 L192,128 Z" fill="#4f4f4f"/>
<path d="M215,128 L275,108 L285,212 L228,236 Z" fill="#2c2c2c"/>
<path d="M280,100 L300,118 L418,240 L380,262 L275,160 Z" fill="#303030"/>
<path d="M378,268 L425,250 L431,263 L386,283 Z" fill="#d2d2d2"/>
<path d="M185,316 L250,291 L365,395 L285,413 Z" fill="#3a3a3a"/>
<path d="M256,288 L330,270 L440,366 L369,392 Z" fill="#2e2e2e"/>
<path d="M390,286 L441,275 L515,352 L446,366 Z" fill="#686868"/>
<g fill="#4f4f4f">
<path d="M285,414 L365,397 L368,468 L289,488 Z"/><path d="M370,393 L440,369 L442,438 L372,458 Z"/><path d="M446,367 L515,353 L514,412 L448,428 Z"/>
<path d="M289,492 L368,472 L366,536 L295,551 Z"/><path d="M372,462 L442,442 L440,498 L375,513 Z"/><path d="M448,432 L514,416 L512,471 L449,483 Z"/>
</g>
<g fill="#141414" stroke="#a0a0a0" stroke-width="5" stroke-linejoin="round">
<path d="M302,428 l50,-12 v26 q0,22 -24,26 q-26,4 -26,-18 z"/><path d="M380,400 l46,-14 v24 q0,20 -22,26 q-24,4 -24,-16 z"/><path d="M456,376 l42,-10 v20 q0,18 -20,22 q-22,4 -22,-14 z"/>
<path d="M302,502 l48,-12 v22 q0,18 -22,22 q-26,4 -26,-14 z"/><path d="M382,470 l44,-12 v20 q0,16 -20,20 q-24,4 -24,-12 z"/><path d="M456,440 l42,-10 v18 q0,14 -20,18 q-22,4 -22,-10 z"/>
</g>
<g fill="none" stroke="#f0f0f0" stroke-width="5" stroke-linecap="round"><path d="M316,444 q10,12 24,0"/><path d="M392,414 q8,10 22,0"/><path d="M466,388 q8,8 20,0"/><path d="M316,514 q10,8 22,0"/><path d="M394,482 q8,8 20,0"/><path d="M466,450 q8,8 20,0"/></g>
<text transform="translate(86 276) rotate(84) skewX(-20)" font-family="'Liberation Sans',sans-serif" font-size="50" font-weight="700" fill="#e4e4e4" textLength="156" lengthAdjust="spacingAndGlyphs">P-12V</text>
</g>
</g></g>
<rect x="19.7" y="593.7" width="206.8" height="205.5" fill="none" stroke="#808080" stroke-width="1.3"/>
</g>
<g id="ph4">
<defs>
<clipPath id="clip4"><rect x="284.3" y="594.3" width="206.4" height="204.3"/></clipPath>
<radialGradient id="bg4" cx="0.55" cy="0.5" r="0.85"><stop offset="0" stop-color="#ffffff"/><stop offset="0.75" stop-color="#fefefe"/><stop offset="1" stop-color="#f0f0f0"/></radialGradient>
<linearGradient id="sataTop" x1="0" y1="0" x2="0.3" y2="1"><stop offset="0" stop-color="#595959"/><stop offset="1" stop-color="#484848"/></linearGradient>
</defs>
<rect x="283.7" y="593.7" width="207.6" height="205.5" fill="url(#bg4)"/>
<g clip-path="url(#clip4)"><g filter="url(#soft)">
<g transform="translate(279 590) scale(0.27215)">
<g filter="url(#blur3)" opacity="0.5"><ellipse cx="420" cy="520" rx="220" ry="55" fill="#cccccc" transform="rotate(-14 420 520)"/></g>
<!-- cables -->
<path d="M10,0 L180,0 Q280,130 400,240 L170,310 Q80,160 10,30 Z" fill="#222"/>
<g fill="none" stroke="#1c1c1c" stroke-width="44">
<path d="M28,-8 Q90,150 188,305"/><path d="M68,-8 Q135,140 238,288"/><path d="M104,-8 Q175,130 288,272"/><path d="M140,-8 Q220,115 338,256"/><path d="M172,-8 Q262,100 388,244"/>
</g>
<g fill="none" stroke="#3a3a3a" stroke-width="36">
<path d="M28,-8 Q90,150 188,305"/><path d="M68,-8 Q135,140 238,288"/><path d="M104,-8 Q175,130 288,272"/><path d="M140,-8 Q220,115 338,256"/><path d="M172,-8 Q262,100 388,244"/>
</g>
<g fill="none" stroke="#585858" stroke-width="16" filter="url(#cblur3)">
<path d="M37,-14 Q99,142 198,298"/><path d="M77,-14 Q144,132 248,280"/><path d="M113,-14 Q184,122 298,264"/><path d="M149,-14 Q229,107 348,248"/><path d="M181,-14 Q271,92 398,236"/>
</g>
<path d="M150,235 Q170,275 196,308 L214,302 Q185,270 168,235 Z" fill="#f2f2f2"/>
<path d="M222,262 Q236,280 250,296 L262,292 Q245,275 236,262 Z" fill="#e6e6e6"/>
<!-- connector -->
<path d="M167,313 L460,227 L474,227 L551,323 L631,393 L633,420 L614,431 L324,517 L303,522 L167,414 Z" fill="#2c2c2c"/>
<path d="M167,313 L460,227 L474,227 L551,323 L251,410 Z" fill="url(#sataTop)"/>
<path d="M167,313 L460,227 L474,227 L477,232 L170,322 Z" fill="#6c6c6c"/>
<path d="M247,405 L549,318 L554,329 L252,415 Z" fill="#707070"/>
<path d="M252,415 L554,329 L631,393 L300,461 Z" fill="#4b4b4b"/>
<path d="M167,313 L251,410 L300,461 L303,522 L167,414 Z" fill="#3b3b3b"/>
<path d="M167,313 L180,328 L180,424 L167,414 Z" fill="#474747"/>
<path d="M300,461 L631,393 L633,420 L614,431 L324,517 L303,522 Z" fill="#484848"/>
<path d="M310,480 L614,408 L614,429 L315,512 Z" fill="#0c0c0c"/>
<g fill="#ded8cc"><path d="M331.1,479.2 l9,-2.1 v16 l-9,2.1 z"/><path d="M350.0,474.8 l9,-2.1 v16 l-9,2.1 z"/><path d="M368.9,470.3 l9,-2.1 v16 l-9,2.1 z"/><path d="M387.8,465.8 l9,-2.1 v16 l-9,2.1 z"/><path d="M406.7,461.3 l9,-2.1 v16 l-9,2.1 z"/><path d="M425.6,456.9 l9,-2.1 v16 l-9,2.1 z"/><path d="M444.5,452.4 l9,-2.1 v16 l-9,2.1 z"/><path d="M463.4,447.9 l9,-2.1 v16 l-9,2.1 z"/><path d="M482.3,443.4 l9,-2.1 v16 l-9,2.1 z"/><path d="M501.2,438.9 l9,-2.1 v16 l-9,2.1 z"/><path d="M520.1,434.5 l9,-2.1 v16 l-9,2.1 z"/><path d="M539.0,430.0 l9,-2.1 v16 l-9,2.1 z"/><path d="M557.9,425.5 l9,-2.1 v16 l-9,2.1 z"/><path d="M576.8,421.0 l9,-2.1 v16 l-9,2.1 z"/><path d="M595.7,416.5 l9,-2.1 v16 l-9,2.1 z"/></g>
<path d="M312,503 l14,-3.5 v8 l-14,4 z" fill="#e8e8e8"/>
<path d="M598,400 l16,-4 v12 l-16,4 z" fill="#f2f2f2"/>
</g>
</g></g>
<rect x="283.7" y="593.7" width="207.6" height="205.5" fill="none" stroke="#808080" stroke-width="1.3"/>
</g>
<g id="ph5">
<defs>
<clipPath id="clip5"><rect x="549.5" y="594.3" width="206.6" height="204.3"/></clipPath>
<radialGradient id="bg5" cx="0.55" cy="0.5" r="0.85"><stop offset="0" stop-color="#ffffff"/><stop offset="0.75" stop-color="#fefefe"/><stop offset="1" stop-color="#f0f0f0"/></radialGradient>
</defs>
<rect x="548.9" y="593.7" width="207.8" height="205.5" fill="url(#bg5)"/>
<g clip-path="url(#clip5)"><g filter="url(#soft)">
<g transform="translate(545 590) scale(0.27215)">
<g filter="url(#blur3)" opacity="0.5"><ellipse cx="380" cy="480" rx="220" ry="50" fill="#cccccc" transform="rotate(-14 380 480)"/></g>
<!-- cables -->
<path d="M10,0 L98,0 L140,110 L60,165 L10,60 Z" fill="#222"/>
<g fill="none" stroke="#1c1c1c" stroke-width="29">
<path d="M12,-8 Q31,188 152,304"/><path d="M35,-8 Q87,204 192,270"/><path d="M57,-8 Q127,193 228,247"/><path d="M80,-8 Q156,173 278,224"/>
</g>
<g fill="none" stroke="#3a3a3a" stroke-width="23">
<path d="M12,-8 Q31,188 152,304"/><path d="M35,-8 Q87,204 192,270"/><path d="M57,-8 Q127,193 228,247"/><path d="M80,-8 Q156,173 278,224"/>
</g>
<g fill="none" stroke="#5a5a5a" stroke-width="10" filter="url(#cblur3)">
<path d="M17,-10 Q36,184 157,298"/><path d="M40,-10 Q92,200 197,264"/><path d="M62,-10 Q132,189 233,241"/><path d="M85,-10 Q161,169 283,218"/>
</g>
<!-- connector body -->
<path d="M140,315 L190,290 L290,250 L462,268 L548,318 L572,402 L312,486 L300,482 L150,398 Z" fill="#262626"/>
<path d="M140,315 L290,363 L300,482 L150,398 Z" fill="#4a4a4a"/>
<path d="M140,315 L290,363 L291,376 L141,328 Z" fill="#606060"/>
<path d="M140,315 L185,292 L290,345 L462,285 L548,318 L290,363 Z" fill="#303030"/>
<path d="M290,363 L548,318 L572,402 L312,486 L300,482 Z" fill="#3e3e3e"/>
<path d="M290,363 L548,318 L552,332 L292,380 Z" fill="#5c5c5c"/>
<!-- holes -->
<g fill="#0d0d0d">
<circle cx="333" cy="436" r="29"/><circle cx="395" cy="404" r="28"/><circle cx="458" cy="373" r="27"/><circle cx="524" cy="345" r="26"/>
</g>
<g fill="none" stroke="#cfcfcf" stroke-width="7" stroke-linecap="round">
<path d="M311,448 A24,24 0 0 1 340,412"/><path d="M374,416 A23,23 0 0 1 402,381"/><path d="M438,385 A22,22 0 0 1 465,351"/><path d="M505,356 A21,21 0 0 1 531,324"/>
</g>
<g fill="#2c2c2c" stroke="#6e6e6e" stroke-width="3"><circle cx="336" cy="442" r="10"/><circle cx="398" cy="410" r="10"/><circle cx="461" cy="379" r="9"/><circle cx="527" cy="351" r="9"/></g>
<!-- hump grip -->
<path d="M186,279 L196,261 L224,246 L294,202 L371,177 L385,184 L500,279 L462,280 L294,355 L270,314 Q240,298 218,331 Q190,320 186,279 Z" fill="#3c3c3c"/>
<path d="M294,202 L371,177 L385,184 L300,214 Z" fill="#5c5c5c"/>
<path d="M186,279 L196,261 L224,246 Q262,262 270,314 Q240,298 218,331 Q190,320 186,279 Z" fill="#262626"/>
<path d="M200,262 L224,248 Q256,262 264,302 Q240,292 226,306 Q206,290 200,262 Z" fill="#474747"/>
<g fill="none" stroke="#999" stroke-width="3.5">
<path d="M240,249 L374,205"/><path d="M252,262 L392,216"/><path d="M262,278 L420,226"/>
</g>
<g fill="none" stroke="#1e1e1e" stroke-width="4">
<path d="M242,255 L380,210"/><path d="M256,269 L398,222"/><path d="M266,285 L426,232"/>
</g>
<path d="M294,349 L458,276" fill="none" stroke="#c8c8c8" stroke-width="5"/>
<path d="M288,330 L452,262" fill="none" stroke="#1e1e1e" stroke-width="7"/>
<path d="M316,206 L338,330" fill="none" stroke="#1a1a1a" stroke-width="3"/>
<!-- emboss on side -->
<path d="M170,352 l26,10 v28 l-26,-12 z" fill="none" stroke="#6a6a6a" stroke-width="3"/>
<path d="M212,372 l22,8 v24 l-22,-10 z" fill="none" stroke="#666" stroke-width="3"/>
</g>
</g></g>
<rect x="548.9" y="593.7" width="207.8" height="205.5" fill="none" stroke="#808080" stroke-width="1.3"/>
</g>
</g>
<g id="captions">
<text class="cap" x="33.5" y="540.2" textLength="393.5" lengthAdjust="spacing">20+4PIN MOTHERBOARD POWER SUPPLY</text>
<text class="cap" x="459.4" y="540.2" textLength="267.2" lengthAdjust="spacing">4+4PIN CPU POWER SUPPLY</text>
<text class="cap" x="9.5" y="836.5" textLength="228.3" lengthAdjust="spacing">6+2PIN GRAPHICS CARD</text>
<text class="cap" x="47" y="860.3" textLength="154.5" lengthAdjust="spacing">POWER SUPPLY</text>
<text class="cap" x="339.6" y="836.5" textLength="110" lengthAdjust="spacing">SATA DRIVE</text>
<text class="cap" x="319" y="860.3" textLength="151.7" lengthAdjust="spacing">POWER SUPPLY</text>
<text class="cap" x="584.3" y="836.5" textLength="144.3" lengthAdjust="spacing">LARGE 4PIN FAN</text>
<text class="cap" x="584.3" y="860.3" textLength="142.3" lengthAdjust="spacing">POWER SUPPLY</text>
</g>
<rect x="0" y="884.7" width="790" height="1.2" fill="#111"/>
<g id="diagram">
<defs>
<pattern id="mesh" width="4.2" height="4.2" patternUnits="userSpaceOnUse" patternTransform="rotate(45)"><rect width="4.2" height="4.2" fill="#383838"/><circle cx="1.2" cy="1.2" r="0.95" fill="#e8e8e8"/></pattern>
<pattern id="mesh2" width="3.4" height="3.4" patternUnits="userSpaceOnUse" patternTransform="rotate(45)"><rect width="3.4" height="3.4" fill="#383838"/><circle cx="1" cy="1" r="0.7" fill="#d8d8d8"/></pattern>
<pattern id="speck" width="23" height="9" patternUnits="userSpaceOnUse"><circle cx="3" cy="2" r="0.6" fill="#999"/><circle cx="11" cy="6" r="0.5" fill="#888"/><circle cx="17" cy="3" r="0.6" fill="#999"/><circle cx="7" cy="7.5" r="0.4" fill="#777"/></pattern>
<linearGradient id="fadeL" x1="0" x2="1" y1="0" y2="0"><stop offset="0" stop-color="#383838" stop-opacity="1"/><stop offset="0.55" stop-color="#383838" stop-opacity="0.55"/><stop offset="1" stop-color="#383838" stop-opacity="0"/></linearGradient>
</defs>
<line x1="39.4" y1="957.8" x2="39.4" y2="981.0" stroke="#2e2c22" stroke-width="1.8"/>
<line x1="39.4" y1="964.0" x2="346.0" y2="964.0" stroke="#2e2c22" stroke-width="1.8"/>
<line x1="345.8" y1="958.8" x2="345.8" y2="969.4" stroke="#2e2c22" stroke-width="1.8"/>
<text class="dim" x="166.8" y="958.4" textLength="48.2" lengthAdjust="spacingAndGlyphs"><tspan font-weight="700">500</tspan>mm</text>
<rect x="38.9" y="979.6" width="276" height="36.2" fill="#383838"/>
<rect x="38.9" y="979.6" width="180" height="36.2" fill="url(#speck)"/>
<rect x="205" y="981" width="108.5" height="33.5" fill="url(#mesh)"/>
<rect x="205" y="979.6" width="60" height="36.2" fill="url(#fadeL)"/>
<rect x="313.5" y="979.6" width="40" height="35.8" fill="#383838"/>
<rect x="330.2" y="978" width="6.4" height="39" rx="2" fill="#383838"/>
<path d="M353,982 L365.3,972.6 L380,972.6 L380,1013.4 L353,1014 Z" fill="#383838"/>
<path d="M356,986.0 L366,976.5 L380,976.5" fill="none" stroke="#cfcfcf" stroke-width="0.9"/>
<path d="M356,990.0 L366,981.0 L380,981.0" fill="none" stroke="#cfcfcf" stroke-width="0.9"/>
<path d="M356,994.0 L366,986.0 L380,986.0" fill="none" stroke="#cfcfcf" stroke-width="0.9"/>
<path d="M356,998.5 L366,992.0 L380,992.0" fill="none" stroke="#cfcfcf" stroke-width="0.9"/>
<path d="M356,1003.0 L366,998.0 L380,998.0" fill="none" stroke="#cfcfcf" stroke-width="0.9"/>
<path d="M356,1007.0 L366,1003.5 L380,1003.5" fill="none" stroke="#cfcfcf" stroke-width="0.9"/>
<path d="M356,1011.0 L366,1008.5 L380,1008.5" fill="none" stroke="#cfcfcf" stroke-width="0.9"/>
<rect x="379.8" y="969.7" width="21.8" height="45" fill="#2e2e2e"/>
<rect x="394.2" y="976.7" width="5.3" height="1.3" fill="#e6e6e6"/>
<rect x="394.2" y="981.3" width="5.3" height="1.3" fill="#e6e6e6"/>
<rect x="394.2" y="985.9" width="5.3" height="1.3" fill="#e6e6e6"/>
<rect x="394.2" y="1003.3" width="5.3" height="1.3" fill="#e6e6e6"/>
<rect x="394.2" y="1007.9" width="5.3" height="1.3" fill="#e6e6e6"/>
<rect x="394.2" y="1011.7" width="5.3" height="1.3" fill="#e6e6e6"/>
<path d="M382.5,973 h5 v3 h-3 v3 h3 v3 h-5 z M382.5,984 h5 v4 h-2.5 v-2 h-2.5 z" fill="#e6e6e6"/>
<path d="M382.5,1002 h4.5 l-2,3 l2.5,3 h-5 z M382.5,1010 h5 v2.2 h-5 z" fill="#e6e6e6"/>
<rect x="384.5" y="990" width="1" height="10" fill="#777"/>
<path d="M353,1013.5 L365.3,1024.2 L381,1025" fill="none" stroke="#2e2c22" stroke-width="3.2"/>
<path d="M356,1015.5 L366,1024.2 L381,1025" fill="none" stroke="#ddd" stroke-width="0.7"/>
<rect x="381.3" y="1021.3" width="11.5" height="8.6" fill="#2e2e2e"/>
<rect x="392.5" y="1021.8" width="9.8" height="5.8" rx="2" fill="#2e2e2e"/>
<path d="M384,1023 h2 v4 h3.5 v1.4 h-5.5 z" fill="#e6e6e6"/><rect x="388.2" y="1023" width="1.6" height="2.4" fill="#e6e6e6"/>
<text class="lbl" x="135.6" y="1032.5" textLength="82.7" lengthAdjust="spacingAndGlyphs">ATX 20+4PIN</text>
<line x1="19.5" y1="1043.3" x2="681.5" y2="1043.3" stroke="#3a3828" stroke-width="2.1" stroke-dasharray="4.6 5.37" stroke-dashoffset="2.9"/>
<line x1="39.5" y1="1070.6" x2="39.5" y2="1090.0" stroke="#2e2c22" stroke-width="1.8"/>
<line x1="39.5" y1="1078.3" x2="271.0" y2="1078.3" stroke="#2e2c22" stroke-width="1.8"/>
<line x1="271.2" y1="1075.8" x2="271.2" y2="1089.4" stroke="#2e2c22" stroke-width="1.8"/>
<line x1="281.8" y1="1075.8" x2="281.8" y2="1089.4" stroke="#2e2c22" stroke-width="1.8"/>
<line x1="281.8" y1="1078.3" x2="400.0" y2="1078.3" stroke="#2e2c22" stroke-width="1.8"/>
<line x1="400.2" y1="1075.8" x2="400.2" y2="1089.4" stroke="#2e2c22" stroke-width="1.8"/>
<line x1="411.0" y1="1075.8" x2="411.0" y2="1089.4" stroke="#2e2c22" stroke-width="1.8"/>
<line x1="411.0" y1="1078.3" x2="527.0" y2="1078.3" stroke="#2e2c22" stroke-width="1.8"/>
<line x1="526.8" y1="1075.8" x2="526.8" y2="1091.0" stroke="#2e2c22" stroke-width="1.8"/>
<rect x="39.5" y="1099.8" width="235" height="10.2" rx="1.5" fill="#383838"/>
<rect x="45" y="1101.5" width="120" height="6" fill="url(#speck)" opacity="0.6"/>
<rect x="276" y="1100.0" width="130" height="9.6" fill="#383838"/>
<rect x="406" y="1100.6" width="116" height="8.4" fill="#383838"/>
<rect x="300" y="1102.0" width="90" height="5" fill="url(#speck)" opacity="0.5"/>
<rect x="430" y="1102.0" width="80" height="5" fill="url(#speck)" opacity="0.5"/>
<ellipse cx="263.5" cy="1104.8" rx="2" ry="6" fill="#383838"/>
<ellipse cx="425.5" cy="1104.8" rx="1.8" ry="5.6" fill="#383838"/>
<ellipse cx="511" cy="1104.8" rx="1.8" ry="5.6" fill="#383838"/>
<path d="M272.6,1091.0 h7.4 l2.8,6.5 v15.9 l-2.8,6.6 h-7.4 l-2.8,-6.6 v-15.9 z" fill="#363636"/>
<path d="M265.1,1099.6 q3,-0.4 4.6,-2.6 v16 q-1.6,-2.4 -4.6,-2.8 z" fill="#363636"/>
<path d="M287.5,1099.6 q-3,-0.4 -4.6,-2.6 v16 q1.6,-2.4 4.6,-2.8 z" fill="#363636"/>
<path d="M266.7,1102.0 l2.2,-1.4 v2.8 z M266.7,1108.0 l2.2,-1.4 v2.8 z M285.9,1102.0 l-2.2,-1.4 v2.8 z M285.9,1108.0 l-2.2,-1.4 v2.8 z" fill="#b9b6ae" opacity="0.8"/>
<path d="M401.8,1091.0 h7.4 l2.8,6.5 v15.9 l-2.8,6.6 h-7.4 l-2.8,-6.6 v-15.9 z" fill="#363636"/>
<path d="M394.3,1099.6 q3,-0.4 4.6,-2.6 v16 q-1.6,-2.4 -4.6,-2.8 z" fill="#363636"/>
<path d="M416.7,1099.6 q-3,-0.4 -4.6,-2.6 v16 q1.6,-2.4 4.6,-2.8 z" fill="#363636"/>
<path d="M395.9,1102.0 l2.2,-1.4 v2.8 z M395.9,1108.0 l2.2,-1.4 v2.8 z M415.1,1102.0 l-2.2,-1.4 v2.8 z M415.1,1108.0 l-2.2,-1.4 v2.8 z" fill="#b9b6ae" opacity="0.8"/>
<path d="M518,1100.6 L526.8,1095.0 L526.8,1115.0 L518,1109.0 Z" fill="#383838"/>
<rect x="526.6" y="1090.4" width="8.4" height="30" rx="1.5" fill="url(#mesh2)"/>
<rect x="526.6" y="1090.4" width="8.4" height="30" rx="1.5" fill="none" stroke="#333" stroke-width="1"/>
<text class="dim" x="133.8" y="1073.0" textLength="54.0" lengthAdjust="spacing" style="font-size:13.6px" stroke="#222" stroke-width="0.45">500mm</text>
<text class="dim" x="319.7" y="1072.8" textLength="46.3" lengthAdjust="spacingAndGlyphs"><tspan font-weight="700">150</tspan>mm</text>
<text class="dim" x="445.7" y="1072.8" textLength="46.8" lengthAdjust="spacingAndGlyphs"><tspan font-weight="700">150</tspan>mm</text>
<text class="lbl" x="138.9" y="1124.4" textLength="33.1" lengthAdjust="spacingAndGlyphs">SATA</text>
<text class="lbl" x="327.3" y="1124.6" textLength="31.7" lengthAdjust="spacingAndGlyphs">SATA</text>
<text class="lbl" x="452.0" y="1123.5" textLength="31.7" lengthAdjust="spacingAndGlyphs" style="font-size:11px">Molex</text>
<line x1="19.5" y1="1136.9" x2="677.5" y2="1136.9" stroke="#3a3828" stroke-width="2.1" stroke-dasharray="4.6 5.37" stroke-dashoffset="2.9"/>
<line x1="39.5" y1="1163.6" x2="39.5" y2="1183.0" stroke="#2e2c22" stroke-width="1.8"/>
<line x1="39.5" y1="1171.3" x2="271.0" y2="1171.3" stroke="#2e2c22" stroke-width="1.8"/>
<line x1="271.2" y1="1168.8" x2="271.2" y2="1182.4" stroke="#2e2c22" stroke-width="1.8"/>
<line x1="281.8" y1="1168.8" x2="281.8" y2="1182.4" stroke="#2e2c22" stroke-width="1.8"/>
<line x1="281.8" y1="1171.3" x2="400.0" y2="1171.3" stroke="#2e2c22" stroke-width="1.8"/>
<line x1="400.2" y1="1168.8" x2="400.2" y2="1182.4" stroke="#2e2c22" stroke-width="1.8"/>
<line x1="411.0" y1="1168.8" x2="411.0" y2="1182.4" stroke="#2e2c22" stroke-width="1.8"/>
<line x1="411.0" y1="1171.3" x2="527.0" y2="1171.3" stroke="#2e2c22" stroke-width="1.8"/>
<line x1="526.8" y1="1168.8" x2="526.8" y2="1184.0" stroke="#2e2c22" stroke-width="1.8"/>
<rect x="39.5" y="1192.8" width="235" height="10.2" rx="1.5" fill="#383838"/>
<rect x="45" y="1194.5" width="120" height="6" fill="url(#speck)" opacity="0.6"/>
<rect x="276" y="1193.0" width="130" height="9.6" fill="#383838"/>
<rect x="406" y="1193.6" width="116" height="8.4" fill="#383838"/>
<rect x="300" y="1195.0" width="90" height="5" fill="url(#speck)" opacity="0.5"/>
<rect x="430" y="1195.0" width="80" height="5" fill="url(#speck)" opacity="0.5"/>
<ellipse cx="263.5" cy="1197.8" rx="2" ry="6" fill="#383838"/>
<ellipse cx="425.5" cy="1197.8" rx="1.8" ry="5.6" fill="#383838"/>
<ellipse cx="511" cy="1197.8" rx="1.8" ry="5.6" fill="#383838"/>
<path d="M272.6,1184.0 h7.4 l2.8,6.5 v15.9 l-2.8,6.6 h-7.4 l-2.8,-6.6 v-15.9 z" fill="#363636"/>
<path d="M265.1,1192.6 q3,-0.4 4.6,-2.6 v16 q-1.6,-2.4 -4.6,-2.8 z" fill="#363636"/>
<path d="M287.5,1192.6 q-3,-0.4 -4.6,-2.6 v16 q1.6,-2.4 4.6,-2.8 z" fill="#363636"/>
<path d="M266.7,1195.0 l2.2,-1.4 v2.8 z M266.7,1201.0 l2.2,-1.4 v2.8 z M285.9,1195.0 l-2.2,-1.4 v2.8 z M285.9,1201.0 l-2.2,-1.4 v2.8 z" fill="#b9b6ae" opacity="0.8"/>
<path d="M401.8,1184.0 h7.4 l2.8,6.5 v15.9 l-2.8,6.6 h-7.4 l-2.8,-6.6 v-15.9 z" fill="#363636"/>
<path d="M394.3,1192.6 q3,-0.4 4.6,-2.6 v16 q-1.6,-2.4 -4.6,-2.8 z" fill="#363636"/>
<path d="M416.7,1192.6 q-3,-0.4 -4.6,-2.6 v16 q1.6,-2.4 4.6,-2.8 z" fill="#363636"/>
<path d="M395.9,1195.0 l2.2,-1.4 v2.8 z M395.9,1201.0 l2.2,-1.4 v2.8 z M415.1,1195.0 l-2.2,-1.4 v2.8 z M415.1,1201.0 l-2.2,-1.4 v2.8 z" fill="#b9b6ae" opacity="0.8"/>
<path d="M518,1193.6 L526.8,1188.0 L526.8,1208.0 L518,1202.0 Z" fill="#383838"/>
<rect x="526.6" y="1183.4" width="8.4" height="30" rx="1.5" fill="url(#mesh2)"/>
<rect x="526.6" y="1183.4" width="8.4" height="30" rx="1.5" fill="none" stroke="#333" stroke-width="1"/>
<text class="dim" x="133.8" y="1166.0" textLength="54.0" lengthAdjust="spacing" style="font-size:13.6px" stroke="#222" stroke-width="0.45">500mm</text>
<text class="dim" x="319.7" y="1165.8" textLength="46.3" lengthAdjust="spacingAndGlyphs"><tspan font-weight="700">150</tspan>mm</text>
<text class="dim" x="445.7" y="1165.8" textLength="46.8" lengthAdjust="spacingAndGlyphs"><tspan font-weight="700">150</tspan>mm</text>
<text class="lbl" x="138.9" y="1217.4" textLength="33.1" lengthAdjust="spacingAndGlyphs">SATA</text>
<text class="lbl" x="327.3" y="1217.6" textLength="31.7" lengthAdjust="spacingAndGlyphs">SATA</text>
<text class="lbl" x="452.0" y="1216.5" textLength="31.7" lengthAdjust="spacingAndGlyphs" style="font-size:11px">Molex</text>
<line x1="19.5" y1="1228.9" x2="681.5" y2="1228.9" stroke="#3a3828" stroke-width="2.1" stroke-dasharray="4.6 5.37" stroke-dashoffset="2.9"/>
<line x1="39.4" y1="1250.0" x2="39.4" y2="1278.0" stroke="#2e2c22" stroke-width="1.8"/>
<line x1="39.4" y1="1255.4" x2="352.5" y2="1255.4" stroke="#2e2c22" stroke-width="1.8"/>
<line x1="352.3" y1="1252.0" x2="352.3" y2="1270.0" stroke="#2e2c22" stroke-width="1.8"/>
<text class="dim" x="166.2" y="1249.8" textLength="48.8" lengthAdjust="spacingAndGlyphs"><tspan font-weight="700">600</tspan>mm</text>
<rect x="38.9" y="1276.5" width="314" height="11.3" fill="#383838"/>
<rect x="45" y="1278.5" width="160" height="7" fill="url(#speck)" opacity="0.7"/>
<rect x="255" y="1278" width="82" height="8.4" fill="url(#mesh2)"/>
<rect x="225" y="1277" width="60" height="10.5" fill="url(#fadeL)"/>
<ellipse cx="339" cy="1282" rx="2" ry="6.6" fill="#383838"/>
<rect x="352.4" y="1270" width="28.4" height="25.6" fill="#fff" stroke="#2e2e2e" stroke-width="1.4"/>
<rect x="352.4" y="1270" width="4" height="25.6" fill="#2e2e2e"/>
<rect x="366.5" y="1272" width="2.6" height="21.6" fill="#2e2e2e"/>
<rect x="357.5" y="1272.6" width="8.5" height="3.2" fill="#2e2e2e"/>
<rect x="359" y="1273.7" width="5" height="1" fill="#ddd"/>
<rect x="357.5" y="1278.5" width="8.5" height="3.2" fill="#2e2e2e"/>
<rect x="359" y="1279.6" width="5" height="1" fill="#ddd"/>
<rect x="357.5" y="1286.0" width="8.5" height="3.2" fill="#2e2e2e"/>
<rect x="359" y="1287.1" width="5" height="1" fill="#ddd"/>
<rect x="357.5" y="1292" width="8.5" height="2.2" fill="#2e2e2e"/>
<rect x="369" y="1276" width="11" height="1.4" fill="#2e2e2e"/><rect x="369" y="1288" width="11" height="1.4" fill="#2e2e2e"/>
<rect x="376.5" y="1273" width="2" height="20" fill="#2e2e2e"/>
<text class="lbl" x="147.6" y="1304.4" textLength="87.4" lengthAdjust="spacingAndGlyphs">CPU<tspan font-weight="400">12V</tspan> 4+4P</text>
<line x1="19.5" y1="1316.3" x2="478.5" y2="1316.3" stroke="#3a3828" stroke-width="2.1" stroke-dasharray="4.6 5.37" stroke-dashoffset="2.9"/>
<line x1="39.4" y1="1339.2" x2="39.4" y2="1365.4" stroke="#2e2c22" stroke-width="1.8"/>
<line x1="39.4" y1="1345.7" x2="354.0" y2="1345.7" stroke="#2e2c22" stroke-width="1.8"/>
<line x1="354.0" y1="1343.0" x2="354.0" y2="1361.0" stroke="#2e2c22" stroke-width="1.8"/>
<line x1="384.0" y1="1340.0" x2="384.0" y2="1361.0" stroke="#2e2c22" stroke-width="1.8"/>
<line x1="384.0" y1="1345.7" x2="557.0" y2="1345.7" stroke="#2e2c22" stroke-width="1.8"/>
<line x1="557.0" y1="1340.0" x2="557.0" y2="1361.0" stroke="#2e2c22" stroke-width="1.8"/>
<text class="dim" x="166.8" y="1339.2" textLength="48.2" lengthAdjust="spacingAndGlyphs"><tspan font-weight="700">500</tspan>mm</text>
<text class="dim" x="442.8" y="1339.9" textLength="44.8" lengthAdjust="spacingAndGlyphs"><tspan font-weight="700">150</tspan>mm</text>
<rect x="38.9" y="1367" width="316" height="10" fill="#383838"/>
<rect x="45" y="1368.8" width="230" height="6.4" fill="url(#speck)" opacity="0.7"/>
<rect x="382" y="1366.6" width="178" height="11.3" fill="#383838"/>
<ellipse cx="346" cy="1372" rx="1.8" ry="6" fill="#383838"/>
<path d="M347.0,1372 l4,-6 h3 v12 h-3 z" fill="#383838"/>
<rect x="354.0" y="1362.7" width="28.4" height="17" fill="#2e2e2e"/>
<path d="M362.0,1368.5 h6 v4.5 h-1.4 v-3.1 h-4.6 z" fill="#e6e6e6"/>
<rect x="375.0" y="1365.6" width="5.5" height="8" fill="#e9e9e9"/>
<path d="M376.0,1366.6 h3.4 v1.1 h-2.2 v1.5 h2.2 v3.6 h-3.4 v-1.1 h2.2 v-1.4 h-2.2 z" fill="#2e2e2e"/>
<path d="M350.0,1379 C337.0,1380 339.0,1388 348.0,1388.6 L355.0,1388.6" fill="none" stroke="#2e2c22" stroke-width="1.3"/>
<rect x="354.7" y="1384.4" width="13" height="7.6" rx="1" fill="#2e2e2e"/>
<rect x="367.2" y="1385.4" width="13.5" height="5.6" rx="2" fill="#2e2e2e"/>
<rect x="359.0" y="1387" width="5" height="1.2" fill="#ddd"/><rect x="359.0" y="1389" width="5" height="1.2" fill="#ddd"/>
<rect x="371.0" y="1387.4" width="4.5" height="1.4" fill="#ddd"/>
<path d="M559.0,1372 l4,-6 h3 v12 h-3 z" fill="#383838"/>
<rect x="566.0" y="1362.7" width="28.4" height="17" fill="#2e2e2e"/>
<path d="M574.0,1368.5 h6 v4.5 h-1.4 v-3.1 h-4.6 z" fill="#e6e6e6"/>
<rect x="587.0" y="1365.6" width="5.5" height="8" fill="#e9e9e9"/>
<path d="M588.0,1366.6 h3.4 v1.1 h-2.2 v1.5 h2.2 v3.6 h-3.4 v-1.1 h2.2 v-1.4 h-2.2 z" fill="#2e2e2e"/>
<path d="M562.0,1379 C549.0,1380 551.0,1388 560.0,1388.6 L567.0,1388.6" fill="none" stroke="#2e2c22" stroke-width="1.3"/>
<rect x="566.7" y="1384.4" width="13" height="7.6" rx="1" fill="#2e2e2e"/>
<rect x="579.2" y="1385.4" width="13.5" height="5.6" rx="2" fill="#2e2e2e"/>
<rect x="571.0" y="1387" width="5" height="1.2" fill="#ddd"/><rect x="571.0" y="1389" width="5" height="1.2" fill="#ddd"/>
<rect x="583.0" y="1387.4" width="4.5" height="1.4" fill="#ddd"/>
<text class="lbl" x="149.0" y="1406.1" textLength="73.0" lengthAdjust="spacingAndGlyphs">PCIE6<tspan font-weight="400">+2Pin</tspan></text>
</g>

</svg>
</body>
</html>
